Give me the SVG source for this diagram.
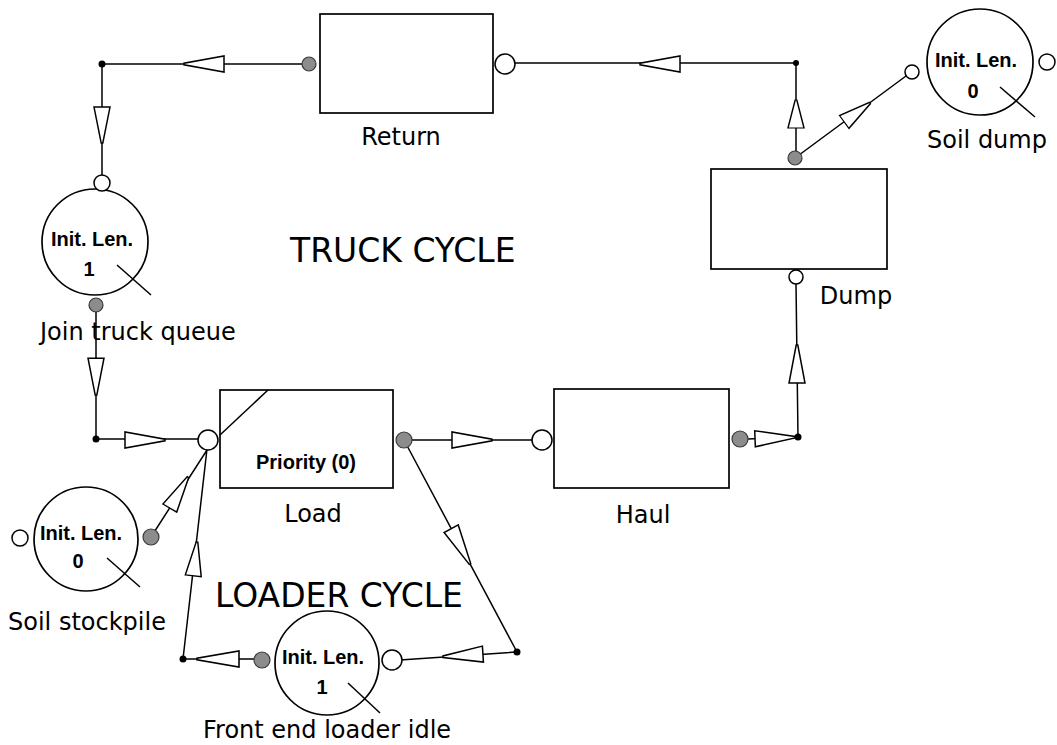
<svg xmlns="http://www.w3.org/2000/svg" xmlns:xlink="http://www.w3.org/1999/xlink" width="1057" height="745" viewBox="0 0 1057 745">
<style>
.box{fill:#fff;stroke:#000;stroke-width:1.7}
.q{fill:#fff;stroke:#000;stroke-width:1.7}
.ln{fill:none;stroke:#000;stroke-width:1.5}
.open{fill:#fff;stroke:#000;stroke-width:1.5}
.gray{fill:#8c8c8c;stroke:#3a3a3a;stroke-width:1.2}
.jn{fill:#000}
.lbl{font-family:"DejaVu Sans",sans-serif;font-size:24px;fill:#000}
.big{font-family:"DejaVu Sans",sans-serif;font-size:33px;fill:#000}
.b{font-family:"Liberation Sans",Arial,sans-serif;font-weight:bold;font-size:20px;fill:#000;text-anchor:middle}
</style>
<defs>
<polygon id="arr" points="-40,-8 -40,8 0,0.8 0,-0.8" fill="#fff" stroke="#000" stroke-width="1.5"/>
</defs>
<rect width="1057" height="745" fill="#fff"/>
<g id="connectors">
<path class="ln" d="M102,64 H303 M102,64 V176 M96,311 V439 H199 M151,537 L207,450 M183,659 L207,449 M183,659 H254 M400,660 L517,652 M404,440 L517,652 M412,440 H533 M748,439 L798,437 L796,284 M796,158 V63 H512 M795,158 L906,76"/>
<use xlink:href="#arr" transform="translate(184,64) rotate(180)"/>
<use xlink:href="#arr" transform="translate(102,143) rotate(90) scale(0.9,1)"/>
<use xlink:href="#arr" transform="translate(96,395) rotate(90) scale(0.92,1)"/>
<use xlink:href="#arr" transform="translate(165,440)"/>
<use xlink:href="#arr" transform="translate(188,477) rotate(-59.6) scale(0.9,1)"/>
<use xlink:href="#arr" transform="translate(197,542) rotate(-83.7) scale(0.85,1)"/>
<use xlink:href="#arr" transform="translate(492,440)"/>
<use xlink:href="#arr" transform="translate(470,564) rotate(61.9)"/>
<use xlink:href="#arr" transform="translate(443,656.7) rotate(176.3)"/>
<use xlink:href="#arr" transform="translate(197,659) rotate(180) scale(1.05,1)"/>
<use xlink:href="#arr" transform="translate(795,437.2) rotate(-2.3)"/>
<use xlink:href="#arr" transform="translate(797,345) rotate(-90) scale(0.95,1)"/>
<use xlink:href="#arr" transform="translate(796,100) rotate(-90) scale(0.7,1)"/>
<use xlink:href="#arr" transform="translate(870,103) rotate(-36.3) scale(0.8,1)"/>
<use xlink:href="#arr" transform="translate(640,64) rotate(180)"/>
<circle class="jn" cx="102" cy="64" r="3.5"/>
<circle class="jn" cx="796" cy="63" r="3"/>
<circle class="jn" cx="96" cy="439" r="3.5"/>
<circle class="jn" cx="798" cy="437" r="3.5"/>
<circle class="jn" cx="183" cy="659" r="3.5"/>
<circle class="jn" cx="517" cy="652" r="3.5"/>
</g>
<g id="return">
<rect class="box" x="320" y="14" width="173" height="99"/>
<circle class="gray" cx="309" cy="64" r="7"/>
<circle class="open" cx="505" cy="64" r="10"/>
<text class="lbl" x="401" y="145" text-anchor="middle">Return</text>
</g>
<g id="dump">
<rect class="box" x="711" y="169" width="176" height="100"/>
<circle class="gray" cx="795" cy="158" r="7"/>
<circle class="open" cx="796" cy="277" r="7"/>
<text class="lbl" x="856" y="304" text-anchor="middle">Dump</text>
</g>
<g id="soil-dump">
<circle class="q" cx="980" cy="62" r="53"/>
<circle class="open" cx="912" cy="72" r="7"/>
<circle class="open" cx="1047" cy="62" r="8"/>
<line class="ln" x1="1000" y1="87" x2="1035" y2="117"/>
<text class="b" x="976" y="67">Init. Len.</text>
<text class="b" x="973" y="98">0</text>
<text class="lbl" x="927" y="148">Soil dump</text>
</g>
<g id="join-truck-queue">
<circle class="q" cx="95" cy="242" r="53"/>
<circle class="open" cx="102" cy="183" r="8"/>
<circle class="gray" cx="96" cy="305" r="7"/>
<line class="ln" x1="117" y1="265" x2="151" y2="295"/>
<text class="b" x="92" y="246">Init. Len.</text>
<text class="b" x="89" y="276">1</text>
<text class="lbl" x="40" y="340">Join truck queue</text>
</g>
<g id="load">
<rect class="box" x="220" y="390" width="173" height="98"/>
<line class="ln" x1="220" y1="435" x2="268" y2="390"/>
<circle class="open" cx="208" cy="440" r="10"/>
<circle class="gray" cx="404" cy="440" r="8"/>
<text class="b" x="306" y="469">Priority (0)</text>
<text class="lbl" x="313" y="522" text-anchor="middle">Load</text>
</g>
<g id="haul">
<rect class="box" x="554" y="389" width="175" height="99"/>
<circle class="open" cx="542" cy="440" r="10"/>
<circle class="gray" cx="740" cy="439" r="8"/>
<text class="lbl" x="643" y="523" text-anchor="middle">Haul</text>
</g>
<g id="soil-stockpile">
<circle class="q" cx="86" cy="539" r="52"/>
<circle class="open" cx="20" cy="538" r="8"/>
<circle class="gray" cx="151" cy="537" r="8"/>
<line class="ln" x1="107" y1="558" x2="140" y2="587"/>
<text class="b" x="81" y="540">Init. Len.</text>
<text class="b" x="78" y="568">0</text>
<text class="lbl" x="8" y="630">Soil stockpile</text>
</g>
<g id="front-end-loader-idle">
<circle class="q" cx="327" cy="663" r="52"/>
<circle class="gray" cx="262" cy="660" r="8"/>
<circle class="open" cx="392" cy="660" r="10"/>
<line class="ln" x1="348" y1="683" x2="380" y2="713"/>
<text class="b" x="323" y="664">Init. Len.</text>
<text class="b" x="322" y="694">1</text>
<text class="lbl" x="203" y="738">Front end loader idle</text>
</g>
<g id="titles">
<text class="big" x="290" y="262">TRUCK CYCLE</text>
<text class="big" x="215" y="607">LOADER CYCLE</text>
</g>
</svg>
